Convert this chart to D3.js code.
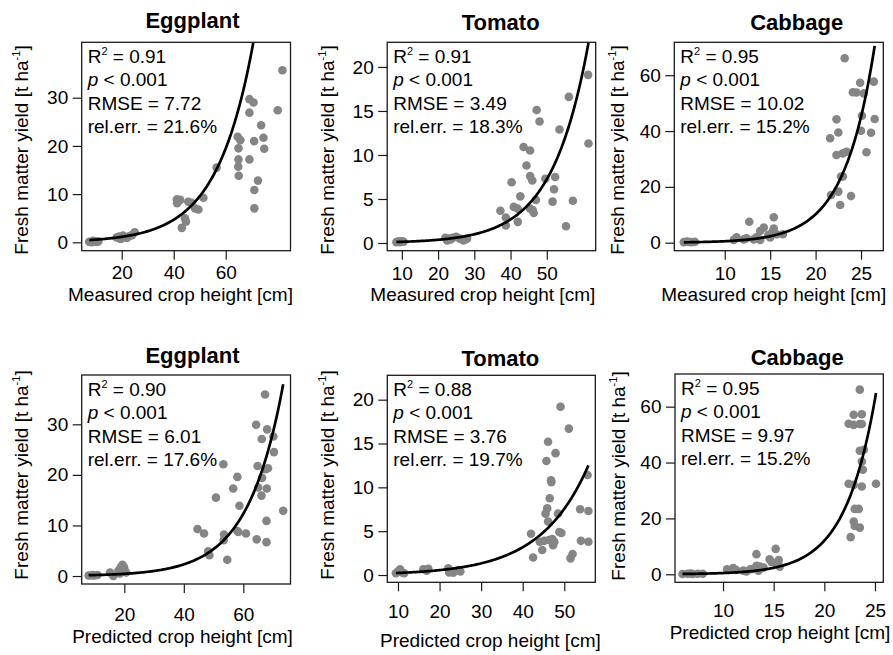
<!DOCTYPE html>
<html lang="en">
  <head>
    <meta charset="UTF-8" />
    <title>Crop height vs fresh matter yield</title>
    <style>
      body { margin: 0; background: #fff; }
      svg text { font-family: "Liberation Sans", Arial, sans-serif; fill: #000; }
    </style>
  </head>
  <body>
    <script src="https://d3js.org/d3.v7.min.js"></script>
    <script>
      // ---- data ----
      const crops = ["Eggplant", "Tomato", "Cabbage"];
      const xTitles = ["Measured crop height [cm]", "Predicted crop height [cm]"];

      // [crop height, fresh matter yield]
      const eggplantMeasured = [
        [7.5, 0.1], [8.5, 0.0], [9.5, 0.2], [10.5, 0.1], [9, 0.3], [11, 0.2],
        [18, 1.0], [19, 1.2], [20, 0.8], [21, 1.1], [22, 0.9], [23, 1.3], [24, 1.5], [25, 2.1], [20.5, 1.4], [19.5, 0.7],
        [41.2, 8.9], [41.3, 8.1], [42.5, 8.8], [45.6, 8.4], [46.9, 8.2], [44.3, 5.0], [44.7, 4.3], [43.1, 3.0],
        [48.2, 7.05], [49.5, 6.8], [51.4, 9.25],
        [56.5, 15.5], [64.6, 21.9], [65.6, 21.2], [64.9, 19.5], [64.9, 17.2], [64.8, 15.7], [65.0, 13.8],
        [69.1, 29.7], [70.7, 29.0], [69.1, 26.9], [69.1, 17.2], [70.9, 21.0], [71, 10.85], [71, 7.05],
        [72.4, 12.8], [73.6, 24.3], [74.5, 21.7], [74.8, 19.4], [80, 27.4], [81.8, 35.7]
      ];
      const tomatoMeasured = [
        [8.5, 0.1], [9, 0.15], [9.5, 0.1], [10, 0.2], [10.5, 0.15], [9.2, 0.2],
        [22, 0.6], [23, 0.5], [23.5, 0.4], [24, 0.6], [25, 0.7], [26, 0.5], [27, 0.3], [27.5, 0.4], [28, 0.5], [22.5, 0.3],
        [37.2, 3.67], [38.7, 2.9], [38.7, 2.0], [40.3, 6.9], [40.9, 4.1], [42, 3.9], [42, 2.4], [42.7, 5.3],
        [43.6, 10.9], [44.4, 8.8], [45.4, 10.5], [45.4, 7.6], [46, 7.1], [45.4, 3.9], [46.1, 3.75], [46.4, 3.4],
        [47, 4.9], [47.2, 15.1], [48, 13.8], [49.6, 7.3], [51.6, 4.7], [52, 6.1], [52.3, 7.5], [53.5, 12.9],
        [55.3, 1.9], [56.1, 16.6], [57.2, 4.8], [61.4, 19.1], [61.5, 11.3]
      ];
      const cabbageMeasured = [
        [5.5, 0.2], [6, 0.3], [6.3, 0.2], [6.7, 0.3], [5.8, 0.4],
        [11, 1.0], [11.3, 1.9], [12.1, 1.2], [12.7, 7.5], [12.4, 1.6], [13.2, 1.2], [13.5, 1.9], [13.9, 1.0],
        [13.9, 4.2], [14.3, 5.4], [14.8, 2.7], [15.2, 3.6], [15.4, 9.1], [15.4, 5.1], [15.7, 3.0], [16.4, 3.0], [15, 1.9],
        [21.6, 37.4], [21.7, 17.1], [22.3, 44.2], [22.5, 39.5], [22.3, 31.4], [22.5, 18.3], [22.7, 13.5],
        [22.8, 23.7], [23.0, 23.7], [23.0, 32.0], [23.2, 66.1], [23.4, 32.6], [23.9, 16.7], [24.1, 53.9],
        [24.5, 53.8], [24.9, 57.3], [25, 40.1], [25.1, 45.5], [25.3, 53.5], [25.6, 32.4], [26.1, 39.4],
        [26.4, 57.7], [26.5, 44.3]
      ];
      const eggplantPredicted = [
        [8, 0.1], [9, 0.1], [10, 0.1], [11, 0.2], [9.5, 0.2],
        [15.2, 0.7], [16.3, 0.0], [18, 1.05], [18.8, 1.7], [19.4, 2.2], [19.9, 1.7], [20.2, 1.05], [18.5, 0.5], [20.6, 0.7],
        [44.6, 9.3], [46.8, 8.4], [48.2, 4.9], [48.6, 4.1], [50.8, 15.5], [53.3, 22.1], [53.4, 7.1], [53.5, 8.2],
        [54.6, 3.2], [56.6, 17.3], [58, 19.6], [58, 8.9], [58.3, 8.7], [58.7, 13.9], [60.9, 8.4],
        [64.3, 29.9], [64.5, 7.25], [64.8, 21.75], [65, 17.5], [66.2, 27.1], [66.3, 19.4], [66.1, 15.9],
        [67.3, 35.9], [67.5, 21.1], [68.0, 29.0], [67.9, 17.3], [67.8, 10.9], [67.8, 6.7], [68.3, 21.3],
        [70.1, 27.6], [70.3, 24.5], [73.4, 12.9]
      ];
      const tomatoPredicted = [
        [9.5, 0.2], [10, 0.4], [10.5, 0.65], [11, 0.3], [11.5, 0.2],
        [16.1, 0.65], [17.3, 0.7], [16.9, 0.5],
        [22.1, 0.76], [22.3, 0.3], [22.9, 0.4], [24.5, 0.57], [25, 0.4], [23.3, 0.27],
        [42, 4.7], [42.5, 2.0], [44.1, 3.8], [44.7, 2.85], [45.2, 3.9], [45.5, 7.0], [45.7, 13.0], [45.9, 7.6],
        [46.1, 15.2], [46.1, 6.1], [46.3, 4.0], [46.5, 8.75], [46.8, 10.8], [46.9, 10.6], [47.1, 4.1], [47.3, 3.4],
        [47.6, 3.8], [47.9, 13.9], [48.5, 7.0], [48.8, 4.9], [49.1, 19.2], [49.3, 4.8], [51.1, 16.7], [51.5, 1.9],
        [52, 2.4], [53.8, 7.5], [54.0, 3.9], [55.6, 11.4], [55.8, 7.3], [55.8, 3.8]
      ];
      const cabbagePredicted = [
        [6, 0.1], [6.5, 0.2], [7, 0.1], [7.5, 0.2], [8, 0.2], [6.8, 0.3],
        [10.4, 1.8], [11, 2.2], [11.3, 1.55], [12, 1.3], [12.3, 1.0], [12.7, 1.8], [13, 1.9], [13.3, 7.2],
        [13.3, 3.0], [13.5, 1.3], [13.65, 2.75], [14, 2.4], [14.6, 5.4], [14.8, 4.3], [15.2, 9.1], [15.5, 5.1],
        [15.6, 2.75], [15.3, 3.9],
        [22.4, 53.9], [22.9, 57.1], [22.9, 53.5], [22.6, 13.3], [22.9, 18.9], [23, 17.3], [23, 23.4], [23.4, 23.4],
        [23.5, 16.7], [22.4, 32.4], [22.9, 32.0], [23.5, 66.1], [23.5, 53.8], [23.7, 57.3], [23.7, 53.8],
        [23.9, 44.6], [23.5, 44.2], [23.7, 40.4], [23.8, 37.4], [23.7, 31.4], [25.1, 32.4]
      ];

      // exponential fit y = a * exp(b * x), one per panel
      const fitA = [0.272, 0.05, 0.0265, 0.0802, 0.098, 0.0164];
      const fitB = [0.0712, 0.0995, 0.2976, 0.0839, 0.0869, 0.33];

      const r2Values = ["0.91", "0.91", "0.95", "0.90", "0.88", "0.95"];
      const rmseValues = ["7.72", "3.49", "10.02", "6.01", "3.76", "9.97"];
      const relErrValues = ["21.6%", "18.3%", "15.2%", "17.6%", "19.7%", "15.2%"];

      const xTickValues = [[20, 40, 60], [10, 20, 30, 40, 50], [10, 15, 20, 25]];
      const yTickValues = [[0, 10, 20, 30], [0, 5, 10, 15, 20], [0, 20, 40, 60]];

      const series = [eggplantMeasured, tomatoMeasured, cabbageMeasured,
                      eggplantPredicted, tomatoPredicted, cabbagePredicted];

      // ---- layout (pixel positions of each panel) ----
      // box: [left, right, top, bottom]
      const layout = [
        { box: [81.7, 290.5, 42.3, 250.7], xd: [4.62, 84.9], yd: [-1.74, 41.5], title: [192.5, 28], xlab: [180.5, 300.5], xtickBase: 279.5, ylabX: 27.5, ylabY: 150 },
        { box: [387.2, 595.7, 42.3, 250.7], xd: [5.96, 63.5], yd: [-0.875, 22.8], title: [500.7, 30], xlab: [482.8, 301], xtickBase: 280, ylabX: 333.5, ylabY: 150 },
        { box: [674.3, 883.3, 42.3, 250.7], xd: [4.45, 27.45], yd: [-2.87, 71.8], title: [796.7, 30], xlab: [773.7, 301], xtickBase: 280, ylabX: 624, ylabY: 150 },
        { box: [81.7, 290.5, 375, 584], xd: [5.68, 75.86], yd: [-1.58, 39.75], title: [192.5, 363], xlab: [182.5, 642.5], xtickBase: 621, ylabX: 27.5, ylabY: 475 },
        { box: [387.3, 595.3, 375.3, 582.3], xd: [7.43, 57.46], yd: [-0.83, 22.78], title: [500.3, 366], xlab: [490.4, 646.5], xtickBase: 618.5, ylabX: 333.5, ylabY: 475 },
        { box: [675, 883.3, 374, 582.3], xd: [5.26, 25.82], yd: [-2.87, 71.7], title: [797.2, 365], xlab: [780, 638.5], xtickBase: 617, ylabX: 625, ylabY: 476 }
      ];

      const fs = 19;
      const ink = "#1a1a1a";
      const dotColor = "#858585";

      const svg = d3.select("body").append("svg")
        .attr("width", 893).attr("height", 655);

      layout.forEach((L, i) => {
        const row = Math.floor(i / 3), col = i % 3;
        const pts = series[i];
        const [left, right, top, bottom] = L.box;

        const x = d3.scaleLinear().domain(L.xd).range([left, right]);
        const y = d3.scaleLinear().domain(L.yd).range([bottom, top]);

        const g = svg.append("g");

        g.append("clipPath").attr("id", "clip" + i)
          .append("rect")
          .attr("x", left).attr("y", top)
          .attr("width", right - left).attr("height", bottom - top);

        // points
        g.append("g").selectAll("circle")
          .data(pts)
          .join("circle")
          .attr("cx", d => x(d[0]))
          .attr("cy", d => y(d[1]))
          .attr("r", 4.3)
          .attr("fill", dotColor);

        // fitted curve
        const [xmin, xmax] = d3.extent(pts, d => d[0]);
        const xs = d3.range(0, 201).map(k => xmin + (xmax - xmin) * k / 200);
        const line = d3.line()
          .x(v => x(v))
          .y(v => y(fitA[i] * Math.exp(fitB[i] * v)));
        g.append("path")
          .datum(xs)
          .attr("d", line)
          .attr("fill", "none")
          .attr("stroke", "#000")
          .attr("stroke-width", 2.7)
          .attr("clip-path", `url(#clip${i})`);

        // axes
        const tickLen = 9;
        const xPad = (L.xtickBase - bottom) - 0.71 * fs - tickLen;
        g.append("g")
          .attr("transform", `translate(0,${bottom})`)
          .call(d3.axisBottom(x).tickValues(xTickValues[col]).tickSize(tickLen).tickPadding(xPad).tickSizeOuter(0))
          .call(a => a.select(".domain").remove())
          .call(a => a.selectAll("line").attr("stroke", ink).attr("stroke-width", 1.2))
          .call(a => a.selectAll("text").attr("font-size", fs).attr("font-family", null).attr("fill", "#000"));

        g.append("g")
          .attr("transform", `translate(${left},0)`)
          .call(d3.axisLeft(y).tickValues(yTickValues[col]).tickSize(tickLen).tickPadding(4.5).tickSizeOuter(0))
          .call(a => a.select(".domain").remove())
          .call(a => a.selectAll("line").attr("stroke", ink).attr("stroke-width", 1.2))
          .call(a => a.selectAll("text").attr("font-size", fs).attr("font-family", null).attr("fill", "#000"));

        // box
        g.append("rect")
          .attr("x", left).attr("y", top)
          .attr("width", right - left).attr("height", bottom - top)
          .attr("fill", "none").attr("stroke", ink).attr("stroke-width", 1.3);

        // title
        g.append("text")
          .attr("x", L.title[0]).attr("y", L.title[1])
          .attr("text-anchor", "middle")
          .attr("font-size", 22).attr("font-weight", "bold")
          .text(crops[col]);

        // x axis title
        g.append("text")
          .attr("x", L.xlab[0]).attr("y", L.xlab[1])
          .attr("text-anchor", "middle")
          .attr("font-size", fs)
          .text(xTitles[row]);

        // y axis title
        const yl = g.append("text")
          .attr("transform", `translate(${L.ylabX},${L.ylabY}) rotate(-90)`)
          .attr("text-anchor", "middle")
          .attr("font-size", fs);
        yl.append("tspan").text("Fresh matter yield [t ha");
        yl.append("tspan").attr("font-size", 11).attr("dy", -8).text("-1");
        yl.append("tspan").attr("dy", 8).text("]");

        // statistics
        const tx = left + 6;
        const s1 = g.append("text").attr("x", tx).attr("y", top + 20.5).attr("font-size", fs);
        s1.append("tspan").text("R");
        s1.append("tspan").attr("font-size", 11).attr("dy", -8).text("2");
        s1.append("tspan").attr("dy", 8).text(" = " + r2Values[i]);

        const s2 = g.append("text").attr("x", tx).attr("y", top + 43.5).attr("font-size", fs);
        s2.append("tspan").attr("font-style", "italic").text("p");
        s2.append("tspan").text(" < 0.001");

        g.append("text").attr("x", tx).attr("y", top + 67.5).attr("font-size", fs)
          .text("RMSE = " + rmseValues[i]);
        g.append("text").attr("x", tx).attr("y", top + 90.5).attr("font-size", fs)
          .text("rel.err. = " + relErrValues[i]);
      });
    </script>
  </body>
</html>
